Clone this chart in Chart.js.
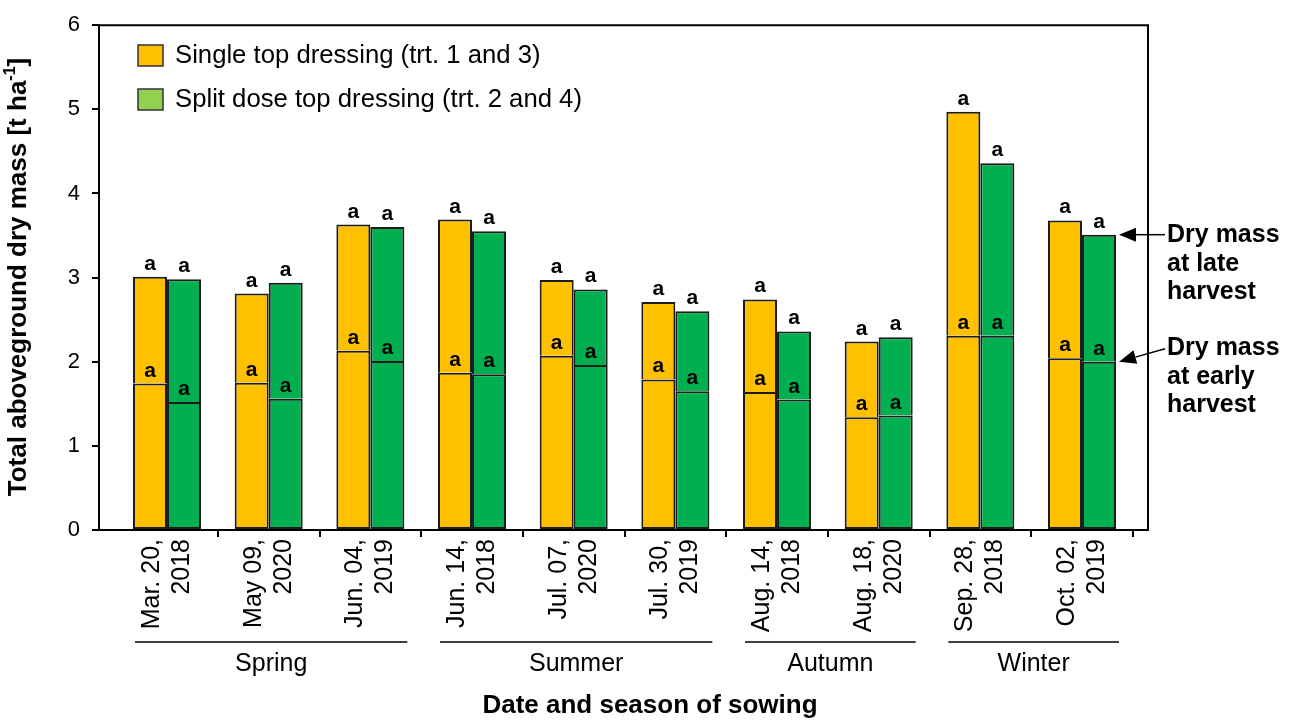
<!DOCTYPE html>
<html>
<head>
<meta charset="utf-8">
<script src="https://cdn.jsdelivr.net/npm/chart.js@4.4.1/dist/chart.umd.min.js"></script>
<style>
  body { margin: 0; background: #fff; }
  canvas { display: block; }
</style>
</head>
<body>
<canvas id="chart" width="1293" height="721"></canvas>
<script>
// sowing dates (two lines each) and seasons
var dates = [['Mar. 20,', '2018'], ['May 09,', '2020'], ['Jun. 04,', '2019'], ['Jun. 14,', '2018'], ['Jul. 07,', '2020'],
  ['Jul. 30,', '2019'], ['Aug. 14,', '2018'], ['Aug. 18,', '2020'], ['Sep. 28,', '2018'], ['Oct. 02,', '2019']];
var seasons = ['Spring', 'Summer', 'Autumn', 'Winter'];
var seasonFirst = [0, 3, 6, 8];
var seasonLast = [2, 5, 7, 9];

// dry mass t/ha
var singleEarly = [1.74, 1.75, 2.13, 1.87, 2.07, 1.79, 1.64, 1.34, 2.31, 2.04];
var singleLate = [3.01, 2.81, 3.63, 3.69, 2.97, 2.71, 2.74, 2.24, 4.97, 3.68];
var splitEarly = [1.52, 1.56, 2.01, 1.85, 1.96, 1.65, 1.55, 1.36, 2.31, 2.00];
var splitLate = [2.98, 2.94, 3.60, 3.55, 2.86, 2.60, 2.36, 2.29, 4.36, 3.51];

// significance letters
var singleEarlyLetters = ['a', 'a', 'a', 'a', 'a', 'a', 'a', 'a', 'a', 'a'];
var singleLateLetters = ['a', 'a', 'a', 'a', 'a', 'a', 'a', 'a', 'a', 'a'];
var splitEarlyLetters = ['a', 'a', 'a', 'a', 'a', 'a', 'a', 'a', 'a', 'a'];
var splitLateLetters = ['a', 'a', 'a', 'a', 'a', 'a', 'a', 'a', 'a', 'a'];

var yTicks = [0, 1, 2, 3, 4, 5, 6];

var legendLabels = ['Single top dressing (trt. 1 and 3)', 'Split dose top dressing (trt. 2 and 4)'];
var legendColors = ['#FFC000', '#92D050'];

var YELLOW = '#FFC000', GREEN = '#00B050', EDGE = '#1c1c1c';
var FONT = '"Liberation Sans", Arial, sans-serif';

function points(arr) {
	return arr.map(function(v, i) { return {x: i, y: v}; });
}
function rest(late, early) {
	return late.map(function(v, i) { return {x: i, y: +(v - early[i]).toFixed(3)}; });
}

var letterMap = [singleEarlyLetters, singleLateLetters, splitEarlyLetters, splitLateLetters];

var extras = {
	id: 'extras',
	afterDatasetsDraw: function(chart) {
		var ctx = chart.ctx;
		var ca = chart.chartArea;
		var xs = chart.scales.x;

		// frame top and right
		ctx.save();
		ctx.strokeStyle = '#000';
		ctx.lineWidth = 2;
		ctx.beginPath();
		ctx.moveTo(ca.left, ca.top);
		ctx.lineTo(ca.right, ca.top);
		ctx.lineTo(ca.right, ca.bottom);
		ctx.stroke();

		// letters above the bars and early harvest lines
		ctx.fillStyle = '#000';
		ctx.font = 'bold 21px ' + FONT;
		ctx.textAlign = 'center';
		ctx.textBaseline = 'alphabetic';
		for (var d = 0; d < 4; d++) {
			var meta = chart.getDatasetMeta(d);
			meta.data.forEach(function(bar, i) {
				ctx.fillText(letterMap[d][i], bar.x, bar.y - 7);
			});
		}

		// legend
		ctx.font = '25.7px ' + FONT;
		ctx.textAlign = 'left';
		ctx.textBaseline = 'middle';
		for (var k = 0; k < legendLabels.length; k++) {
			var ly = 45 + k * 44;
			ctx.fillStyle = legendColors[k];
			ctx.fillRect(138, ly, 25, 21);
			ctx.lineWidth = 1.5;
			ctx.strokeStyle = '#333';
			ctx.strokeRect(138, ly, 25, 21);
			ctx.fillStyle = '#000';
			ctx.fillText(legendLabels[k], 175, ly + 11);
		}

		// date labels
		ctx.font = '25px ' + FONT;
		ctx.textAlign = 'right';
		ctx.textBaseline = 'middle';
		dates.forEach(function(lines, i) {
			var px = xs.getPixelForValue(i);
			ctx.save();
			ctx.translate(px, ca.bottom + 9);
			ctx.rotate(-Math.PI / 2);
			ctx.fillText(lines[0], 0, -15);
			ctx.fillText(lines[1], 0, 15);
			ctx.restore();
		});

		// season groups
		ctx.textAlign = 'center';
		ctx.lineWidth = 1.5;
		ctx.strokeStyle = '#000';
		seasons.forEach(function(s, k) {
			var x0 = xs.getPixelForValue(seasonFirst[k]) - 32;
			var x1 = xs.getPixelForValue(seasonLast[k]) + 37;
			ctx.beginPath();
			ctx.moveTo(x0, 642);
			ctx.lineTo(x1, 642);
			ctx.stroke();
			ctx.fillText(s, (x0 + x1) / 2, 664);
		});

		// axis titles
		ctx.font = 'bold 26px ' + FONT;
		ctx.fillText('Date and season of sowing', 650, 706);

		ctx.save();
		ctx.translate(19, 277);
		ctx.rotate(-Math.PI / 2);
		var t1 = 'Total aboveground dry mass [t ha';
		var w1 = ctx.measureText(t1).width;
		ctx.font = 'bold 16px ' + FONT;
		var w2 = ctx.measureText('-1').width;
		ctx.font = 'bold 26px ' + FONT;
		var w3 = ctx.measureText(']').width;
		var sx = -(w1 + w2 + w3) / 2;
		ctx.textAlign = 'left';
		ctx.fillText(t1, sx, 0);
		ctx.font = 'bold 16px ' + FONT;
		ctx.fillText('-1', sx + w1, -8);
		ctx.font = 'bold 26px ' + FONT;
		ctx.fillText(']', sx + w1 + w2, 0);
		ctx.restore();

		// annotations with arrows
		var lateBar = chart.getDatasetMeta(3).data[9];
		var earlyBar = chart.getDatasetMeta(2).data[9];
		var tipX = lateBar.x + lateBar.width / 2 + 3;
		arrow(ctx, 1165, lateBar.y, tipX, lateBar.y);
		arrow(ctx, 1165, earlyBar.y - 13, tipX, earlyBar.y);

		ctx.font = 'bold 25px ' + FONT;
		ctx.textAlign = 'left';
		ctx.textBaseline = 'alphabetic';
		ctx.fillStyle = '#000';
		['Dry mass', 'at late', 'harvest'].forEach(function(t, i) {
			ctx.fillText(t, 1167, 242 + i * 28.5);
		});
		['Dry mass', 'at early', 'harvest'].forEach(function(t, i) {
			ctx.fillText(t, 1167, 355 + i * 28.5);
		});
		ctx.restore();
	}
};

function arrow(ctx, x0, y0, x1, y1) {
	var ang = Math.atan2(y1 - y0, x1 - x0);
	var len = 17, hw = 7;
	var bx = x1 - len * Math.cos(ang), by = y1 - len * Math.sin(ang);
	ctx.save();
	ctx.strokeStyle = '#000';
	ctx.fillStyle = '#000';
	ctx.lineWidth = 1.5;
	ctx.beginPath();
	ctx.moveTo(x0, y0);
	ctx.lineTo(bx, by);
	ctx.stroke();
	ctx.beginPath();
	ctx.moveTo(x1, y1);
	ctx.lineTo(bx - hw * Math.sin(ang), by + hw * Math.cos(ang));
	ctx.lineTo(bx + hw * Math.sin(ang), by - hw * Math.cos(ang));
	ctx.closePath();
	ctx.fill();
	ctx.restore();
}

var ctx = document.getElementById('chart').getContext('2d');
var myChart = new Chart(ctx, {
	type: 'bar',
	data: {
		datasets: [
			{label: 'single early', data: points(singleEarly), stack: 'single', backgroundColor: YELLOW, borderColor: EDGE, borderWidth: 2, borderSkipped: false},
			{label: 'single late', data: rest(singleLate, singleEarly), stack: 'single', backgroundColor: YELLOW, borderColor: EDGE, borderWidth: 2, borderSkipped: 'bottom'},
			{label: 'split early', data: points(splitEarly), stack: 'split', backgroundColor: GREEN, borderColor: EDGE, borderWidth: 2, borderSkipped: false},
			{label: 'split late', data: rest(splitLate, splitEarly), stack: 'split', backgroundColor: GREEN, borderColor: EDGE, borderWidth: 2, borderSkipped: 'bottom'}
		]
	},
	options: {
		responsive: false,
		animation: false,
		events: [],
		categoryPercentage: 0.669,
		barPercentage: 1,
		layout: {padding: {left: 0, top: 18, right: 145, bottom: 0}},
		plugins: {legend: {display: false}, tooltip: {enabled: false}},
		scales: {
			x: {
				type: 'linear',
				min: -0.669,
				max: 9.649,
				bounds: 'data',
				offset: false,
				grid: {offset: false, drawOnChartArea: false, tickLength: 7, color: '#000', lineWidth: 2},
				border: {color: '#000', width: 2},
				ticks: {display: false},
				afterBuildTicks: function(scale) {
					scale.ticks = dates.map(function(d, i) { return {value: i + 0.5}; });
				},
				afterFit: function(scale) { scale.height = 191; }
			},
			y: {
				stacked: true,
				min: 0,
				max: 6,
				grid: {drawOnChartArea: false, tickLength: 7, color: '#000', lineWidth: 2},
				border: {color: '#000', width: 2},
				ticks: {stepSize: 1, color: '#000', padding: 12, font: {family: FONT, size: 22}},
				afterBuildTicks: function(scale) {
					scale.ticks = yTicks.map(function(v) { return {value: v}; });
				},
				afterFit: function(scale) { scale.width = 99; }
			}
		}
	},
	plugins: [extras]
});
</script>
</body>
</html>
